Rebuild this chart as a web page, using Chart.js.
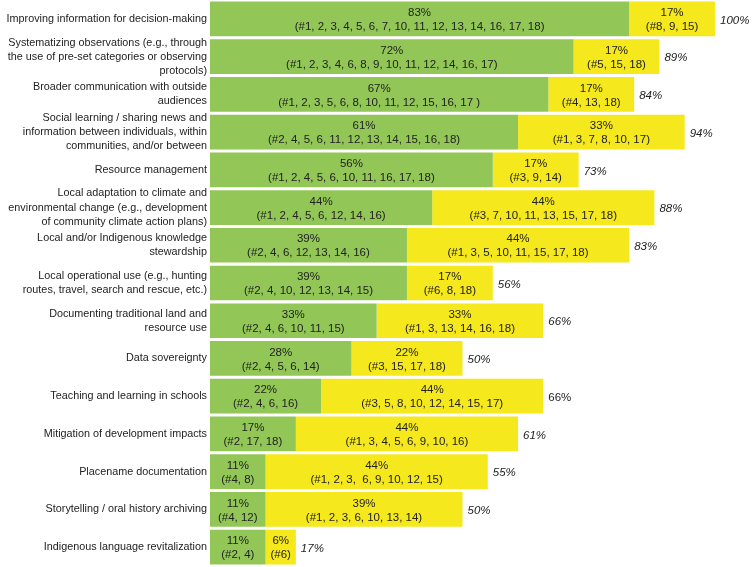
<!DOCTYPE html>
<html>
<head>
<meta charset="utf-8">
<script src="https://cdn.jsdelivr.net/npm/chart.js@4"></script>
<style>
  html, body { margin: 0; padding: 0; background: #fff; }
  #wrap { width: 754px; height: 567px; position: relative; }
</style>
</head>
<body>
<div id="wrap"><canvas id="uses"></canvas></div>
<script>
const categories = [
  ["Improving information for decision-making"],
  ["Systematizing observations (e.g., through", "the use of pre-set categories or observing", "protocols)"],
  ["Broader communication with outside", "audiences"],
  ["Social learning / sharing news and", "information between individuals, within", "communities, and/or between"],
  ["Resource management"],
  ["Local adaptation to climate and", "environmental change (e.g., development", "of community climate action plans)"],
  ["Local and/or Indigenous knowledge", "stewardship"],
  ["Local operational use (e.g., hunting", "routes, travel, search and rescue, etc.)"],
  ["Documenting traditional land and", "resource use"],
  ["Data sovereignty"],
  ["Teaching and learning in schools"],
  ["Mitigation of development impacts"],
  ["Placename documentation"],
  ["Storytelling / oral history archiving"],
  ["Indigenous language revitalization"]
];

const greenPct = [83, 72, 67, 61, 56, 44, 39, 39, 33, 28, 22, 17, 11, 11, 11];
const yellowPct = [17, 17, 17, 33, 17, 44, 44, 17, 33, 22, 44, 44, 44, 39, 6];
const totalPct = [100, 89, 84, 94, 73, 88, 83, 56, 66, 50, 66, 61, 55, 50, 17];

const greenCases = [
  "(#1, 2, 3, 4, 5, 6, 7, 10, 11, 12, 13, 14, 16, 17, 18)",
  "(#1, 2, 3, 4, 6, 8, 9, 10, 11, 12, 14, 16, 17)",
  "(#1, 2, 3, 5, 6, 8, 10, 11, 12, 15, 16, 17 )",
  "(#2, 4, 5, 6, 11, 12, 13, 14, 15, 16, 18)",
  "(#1, 2, 4, 5, 6, 10, 11, 16, 17, 18)",
  "(#1, 2, 4, 5, 6, 12, 14, 16)",
  "(#2, 4, 6, 12, 13, 14, 16)",
  "(#2, 4, 10, 12, 13, 14, 15)",
  "(#2, 4, 6, 10, 11, 15)",
  "(#2, 4, 5, 6, 14)",
  "(#2, 4, 6, 16)",
  "(#2, 17, 18)",
  "(#4, 8)",
  "(#4, 12)",
  "(#2, 4)"
];
const yellowCases = [
  "(#8, 9, 15)",
  "(#5, 15, 18)",
  "(#4, 13, 18)",
  "(#1, 3, 7, 8, 10, 17)",
  "(#3, 9, 14)",
  "(#3, 7, 10, 11, 13, 15, 17, 18)",
  "(#1, 3, 5, 10, 11, 15, 17, 18)",
  "(#6, 8, 18)",
  "(#1, 3, 13, 14, 16, 18)",
  "(#3, 15, 17, 18)",
  "(#3, 5, 8, 10, 12, 14, 15, 17)",
  "(#1, 3, 4, 5, 6, 9, 10, 16)",
  "(#1, 2, 3,  6, 9, 10, 12, 15)",
  "(#1, 2, 3, 6, 10, 13, 14)",
  "(#6)"
];

const FONT = "'Liberation Sans', Arial, sans-serif";
const TEXT = "#222222";

// writes the two-line labels inside each bar and the italic total after it
const barLabels = {
  id: "barLabels",
  afterDatasetsDraw(chart) {
    const ctx = chart.ctx;
    const cases = [greenCases, yellowCases];
    ctx.save();
    ctx.fillStyle = TEXT;
    ctx.textBaseline = "middle";
    chart.data.datasets.forEach(function(ds, d) {
      const meta = chart.getDatasetMeta(d);
      meta.data.forEach(function(bar, i) {
        const cx = (bar.x + bar.base) / 2;
        ctx.font = "11.5px " + FONT;
        ctx.textAlign = "center";
        ctx.fillText(ds.data[i] + "%", cx, bar.y - 6);
        ctx.fillText(cases[d][i], cx, bar.y + 8);
      });
    });
    const last = chart.getDatasetMeta(1);
    last.data.forEach(function(bar, i) {
      ctx.font = (i === 10 ? "" : "italic ") + "11.5px " + FONT;
      ctx.textAlign = "left";
      ctx.fillText(totalPct[i] + "%", bar.x + 5, bar.y + 1.5);
    });
    ctx.restore();
  }
};

const ctx1 = document.getElementById("uses").getContext("2d");
const uses = new Chart(ctx1, {
  type: "bar",
  data: {
    labels: categories,
    datasets: [{
      data: greenPct,
      backgroundColor: "#92c757",
      barPercentage: 1.0,
      categoryPercentage: 0.92
    }, {
      data: yellowPct,
      backgroundColor: "#f5e81c",
      barPercentage: 1.0,
      categoryPercentage: 0.92
    }]
  },
  options: {
    indexAxis: "y",
    responsive: true,
    maintainAspectRatio: false,
    animation: false,
    layout: { padding: { top: 0, bottom: 1, left: 0, right: 39 } },
    plugins: {
      legend: { display: false },
      tooltip: { enabled: false }
    },
    scales: {
      x: {
        stacked: true,
        min: 0,
        max: 100,
        display: false
      },
      y: {
        stacked: true,
        grid: { display: false, drawTicks: false },
        border: { display: false },
        afterFit: function(scale) {
          scale.width = 210;
          scale.paddingTop = 0;
          scale.paddingBottom = 0;
        },
        ticks: {
          color: TEXT,
          padding: 3,
          autoSkip: false,
          font: { family: FONT, size: 10.8, lineHeight: 1.3 }
        }
      }
    }
  },
  plugins: [barLabels]
});
</script>
</body>
</html>
